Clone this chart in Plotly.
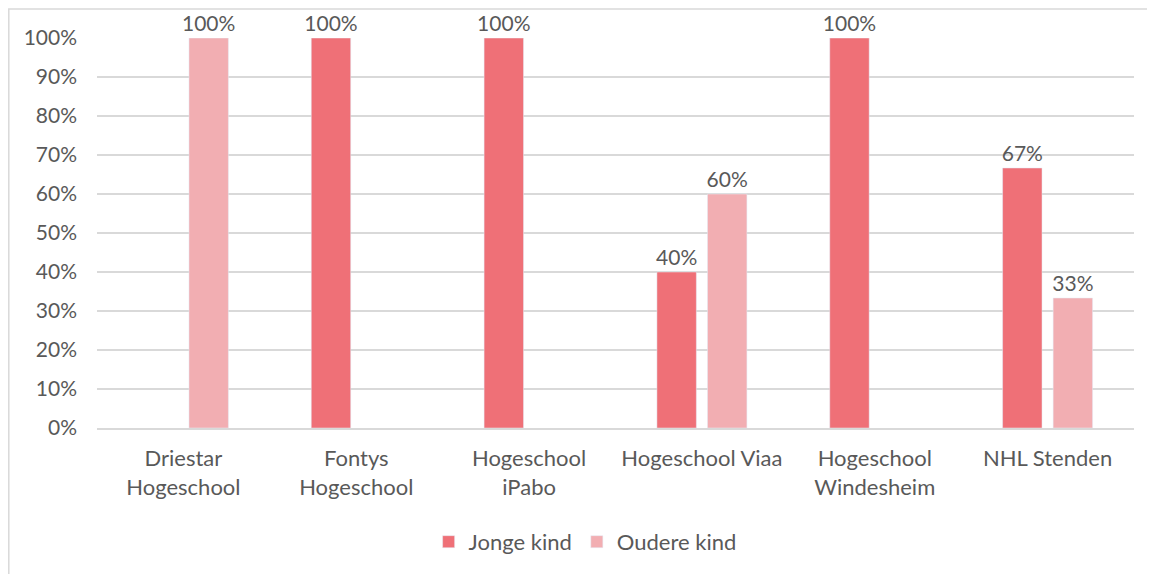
import plotly.graph_objects as go

categories = ["Driestar<br>Hogeschool", "Fontys<br>Hogeschool", "Hogeschool<br>iPabo",
              "Hogeschool Viaa", "Hogeschool<br>Windesheim", "NHL Stenden"]
jonge_kind = [None, 1.0, 1.0, 0.40, 1.0, 0.6667]
oudere_kind = [1.0, None, None, 0.60, None, 0.3333]
tick_vals = [i / 10 for i in range(11)]
tick_text = [f"{i*10}%" for i in range(11)]

FONT = "Lato"
TXT = "#595959"

def labels(vals):
    return [None if v is None else f"{round(v*100)}%" for v in vals]

fig = go.Figure()
fig.add_trace(go.Bar(name="Jonge kind", x=categories, y=jonge_kind, marker_color="#EF7077",
                     text=labels(jonge_kind), textposition="outside", cliponaxis=False,
                     constraintext="none",
                     textfont=dict(family=FONT, size=21, color=TXT)))
fig.add_trace(go.Bar(name="Oudere kind", x=categories, y=oudere_kind, marker_color="#F2AEB2",
                     text=labels(oudere_kind), textposition="outside", cliponaxis=False,
                     constraintext="none",
                     textfont=dict(family=FONT, size=21, color=TXT)))

# page has an 8px body margin; figure occupies 8..1155 x 8..574
PW, PH = 1037, 390
fig.update_layout(
    width=1147, height=566,
    margin=dict(l=89, r=21, t=30, b=146, autoexpand=False),
    barmode="group", bargap=0.415, bargroupgap=0.22,
    plot_bgcolor="white", paper_bgcolor="white",
    font=dict(family=FONT, size=21, color=TXT),
    showlegend=True,
    legend=dict(orientation="h", x=0.4707, xanchor="center", y=-0.292, yanchor="middle",
                font=dict(family=FONT, size=22, color=TXT), traceorder="normal"),
    yaxis=dict(range=[0, 1], tickvals=tick_vals, ticktext=tick_text, showgrid=True,
               gridcolor="#D9D9D9", gridwidth=1.5, zeroline=False, showline=False,
               ticks="", ticklabelstandoff=19, automargin=False,
               tickfont=dict(family=FONT, size=21, color=TXT)),
    xaxis=dict(showline=True, linecolor="#D9D9D9", linewidth=1.5, ticks="",
               automargin=False, ticklabelstandoff=10,
               tickfont=dict(family=FONT, size=22, color=TXT)),
    shapes=[dict(type="rect", xref="paper", yref="paper",
                 x0=(0.8-89)/PW, x1=(1160-89)/PW, y0=-(150)/PH, y1=(390+30-1)/PH,
                 line=dict(color="#D9D9D9", width=1.5), fillcolor="rgba(0,0,0,0)", layer="below")],
)

fig.write_html("out.html")
